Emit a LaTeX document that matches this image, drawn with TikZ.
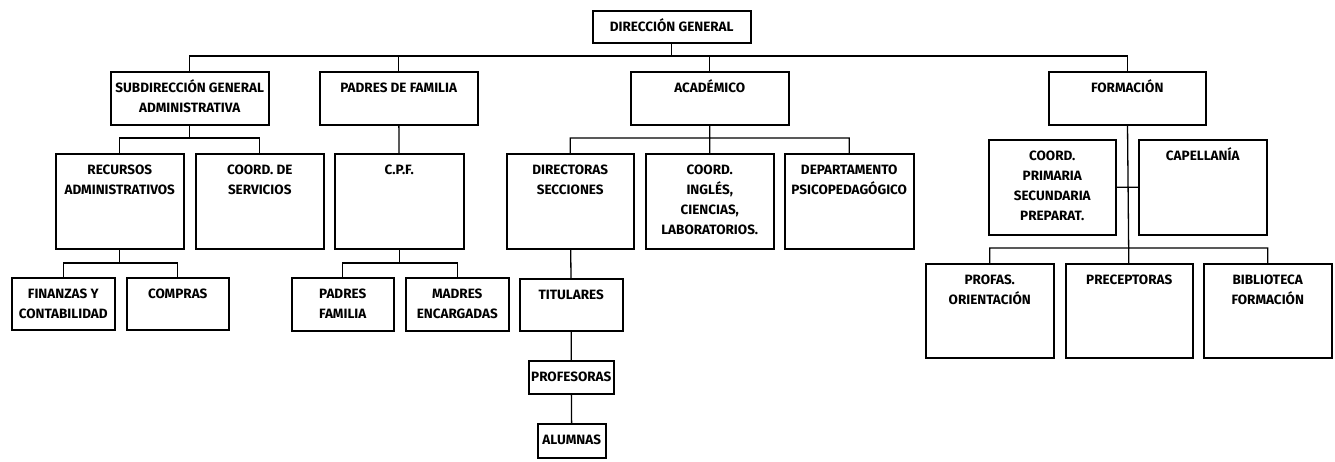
\documentclass[tikz,border=0pt]{standalone}
\usepackage{fontspec}
\setmainfont{Fira Sans}
\usepackage{tikz}

\newcommand{\orgbox}[3]{\parbox[t][#2pt][t]{#1pt}{\centering\vspace*{7pt}\strut #3}}

\begin{document}
\begin{tikzpicture}[x=1pt,y=-1pt,font=\fontsize{13.5}{20}\selectfont\bfseries,
    unit/.style={draw, line width=1.5pt, inner sep=0pt, anchor=north west},
    link/.style={line width=1.3pt}]
                  \useasboundingbox (0,0) rectangle (1335,461);
                  % levels of the connectors
                  \coordinate (l1) at (0,56); \coordinate (l2) at (0,138);
                  \coordinate (l3) at (0,263); \coordinate (l4) at (0,248);
                  \node[unit] (dg) at (592,10) {\orgbox{158}{32}{DIRECCIÓN GENERAL}};
                  \node[unit] (sub) at (110,71) {\orgbox{158}{53}{SUBDIRECCIÓN GENERAL\\ADMINISTRATIVA}};
                  \node[unit] (pad) at (319,71) {\orgbox{158}{53}{PADRES DE FAMILIA}};
                  \node[unit] (acad) at (630,71) {\orgbox{158}{53}{ACADÉMICO}};
                  \node[unit] (form) at (1048,71) {\orgbox{157}{53}{FORMACIÓN}};
                  \node[unit] (rec) at (55,153) {\orgbox{128}{95}{RECURSOS\\ADMINISTRATIVOS}};
                  \node[unit] (serv) at (195,153) {\orgbox{128}{95}{COORD. DE\\SERVICIOS}};
                  \node[unit] (cpf) at (334,153) {\orgbox{129}{95}{C.P.F.}};
                  \node[unit] (dir) at (506,153) {\orgbox{127}{95}{DIRECTORAS\\SECCIONES}};
                  \node[unit] (coo) at (645,153) {\orgbox{128}{95}{COORD.\\INGLÉS,\\CIENCIAS,\\LABORATORIOS.}};
                  \node[unit] (dep) at (784,153) {\orgbox{129}{95}{DEPARTAMENTO\\PSICOPEDAGÓGICO}};
                  \node[unit] (fin) at (11,277) {\orgbox{103}{52}{FINANZAS Y\\CONTABILIDAD}};
                  \node[unit] (com) at (126,277) {\orgbox{102}{52}{COMPRAS}};
                  \node[unit] (pfam) at (291,277) {\orgbox{102}{53}{PADRES\\FAMILIA}};
                  \node[unit] (madr) at (405,277) {\orgbox{103}{53}{MADRES\\ENCARGADAS}};
                  \node[unit] (tit) at (519,278) {\orgbox{103}{52}{TITULARES}};
                  \node[unit] (prof) at (528,360) {\orgbox{85}{33}{PROFESORAS}};
                  \node[unit] (alu) at (537,423) {\orgbox{68}{34}{ALUMNAS}};
                  \node[unit] (prim) at (988,139) {\orgbox{127}{95}{COORD.\\PRIMARIA\\SECUNDARIA\\PREPARAT.}};
                  \node[unit] (cap) at (1138,139) {\orgbox{128}{95}{CAPELLANÍA}};
                  \node[unit] (pro) at (925,263) {\orgbox{128}{94}{PROFAS.\\ORIENTACIÓN}};
                  \node[unit] (pre) at (1065,263) {\orgbox{127}{94}{PRECEPTORAS}};
                  \node[unit] (bib) at (1203,263) {\orgbox{128}{94}{BIBLIOTECA\\FORMACIÓN}};
                  % connectors
                  \draw[link] (dg.south) -- (dg.south|-l1)
                  (sub.north) -- (sub.north|-l1) -- (form.north|-l1) -- (form.north)
                  foreach \X in {pad,acad} {(\X.north) -- (\X.north|-l1)};
                  \draw[link] (sub.south) -- (sub.south|-l2)
                  (rec.north) -- (rec.north|-l2) -- (serv.north|-l2) -- (serv.north);
                  \draw[link] (pad) -- (cpf) (acad) -- (coo)
                  (dir.north) -- (dir.north|-l2) -- (dep.north|-l2) -- (dep.north);
                  \draw[link] (rec.south) -- (rec.south|-l3)
                  (fin.north) -- (fin.north|-l3) -- (com.north|-l3) -- (com.north);
                  \draw[link] (cpf.south) -- (cpf.south|-l3)
                  (pfam.north) -- (pfam.north|-l3) -- (madr.north|-l3) -- (madr.north);
                  \draw[link] (dir) -- (tit) -- (prof) -- (alu);
                  \draw[link] (form) -- (pre) (prim.east) -- (cap.west)
                  (pro.north) -- (pro.north|-l4) -- (bib.north|-l4) -- (bib.north);
              \end{tikzpicture}
\end{document}
